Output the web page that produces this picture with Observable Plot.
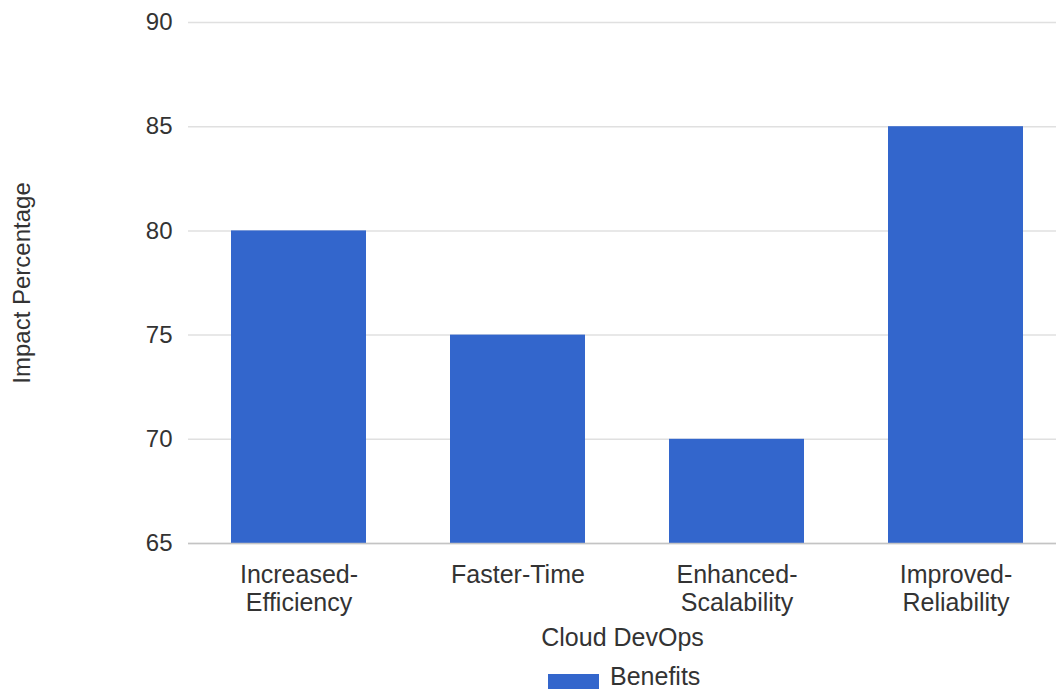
<!DOCTYPE html>
<html>
<head>
<meta charset="utf-8">
<script src="https://cdn.jsdelivr.net/npm/d3@7"></script>
<script src="https://cdn.jsdelivr.net/npm/@observablehq/plot@0.6"></script>
<style>
  html, body { margin: 0; padding: 0; background: #fff; }
  body { position: relative; width: 1056px; height: 689px; overflow: hidden; font-family: "Liberation Sans", Arial, sans-serif; }
  #legend .sw { position: absolute; left: 548px; top: 674px; width: 51px; height: 15px; background: #3366cc; }
  #legend .tx { position: absolute; left: 610px; top: 664px; font-size: 25px; line-height: 25px; color: #333; }
</style>
</head>
<body>
<div id="chart"></div>
<div id="legend"><span class="sw"></span><span class="tx">Benefits</span></div>
<script>
const categories = ["Increased-Efficiency", "Faster-Time", "Enhanced-Scalability", "Improved-Reliability"];
const tickLabels = ["Increased-\nEfficiency", "Faster-Time", "Enhanced-\nScalability", "Improved-\nReliability"];
const benefits = [80, 75, 70, 85];
const yTicks = [65, 70, 75, 80, 85, 90];

const data = categories.map((c, i) => ({category: c, value: benefits[i]}));
const labelOf = new Map(categories.map((c, i) => [c, tickLabels[i]]));

const chart = Plot.plot({
  width: 1056,
  height: 660,
  marginLeft: 188,
  marginRight: 0,
  marginTop: 22,
  marginBottom: 117,
  style: { fontFamily: "'Liberation Sans', Arial, sans-serif", fontSize: "25px", color: "#333", background: "#fff" },
  x: { domain: categories, range: [189, 1065], paddingInner: 0.384, paddingOuter: 0.192, align: 0.5 },
  y: { domain: [65, 90] },
  marks: [
    Plot.gridY(yTicks, { stroke: "#e0e0e0", strokeOpacity: 1, strokeWidth: 1.5 }),
    Plot.barY(data, { x: "category", y1: 65, y2: "value", fill: "#3366cc" }),
    Plot.ruleY([65], { stroke: "#c4c4c4", strokeWidth: 1.5 }),
    Plot.axisY(yTicks, { tickSize: 0, tickPadding: 16, label: "Impact Percentage", labelArrow: "none", labelAnchor: "center", labelOffset: 176, fill: "#333", fontSize: 24 }),
    Plot.axisX({ tickSize: 0, tickPadding: 20, tickFormat: d => labelOf.get(d), lineHeight: 1.12, label: "Cloud DevOps", labelArrow: "none", labelAnchor: "center", labelOffset: 102, fill: "#333" })
  ]
});
document.getElementById("chart").appendChild(chart);
</script>
</body>
</html>
